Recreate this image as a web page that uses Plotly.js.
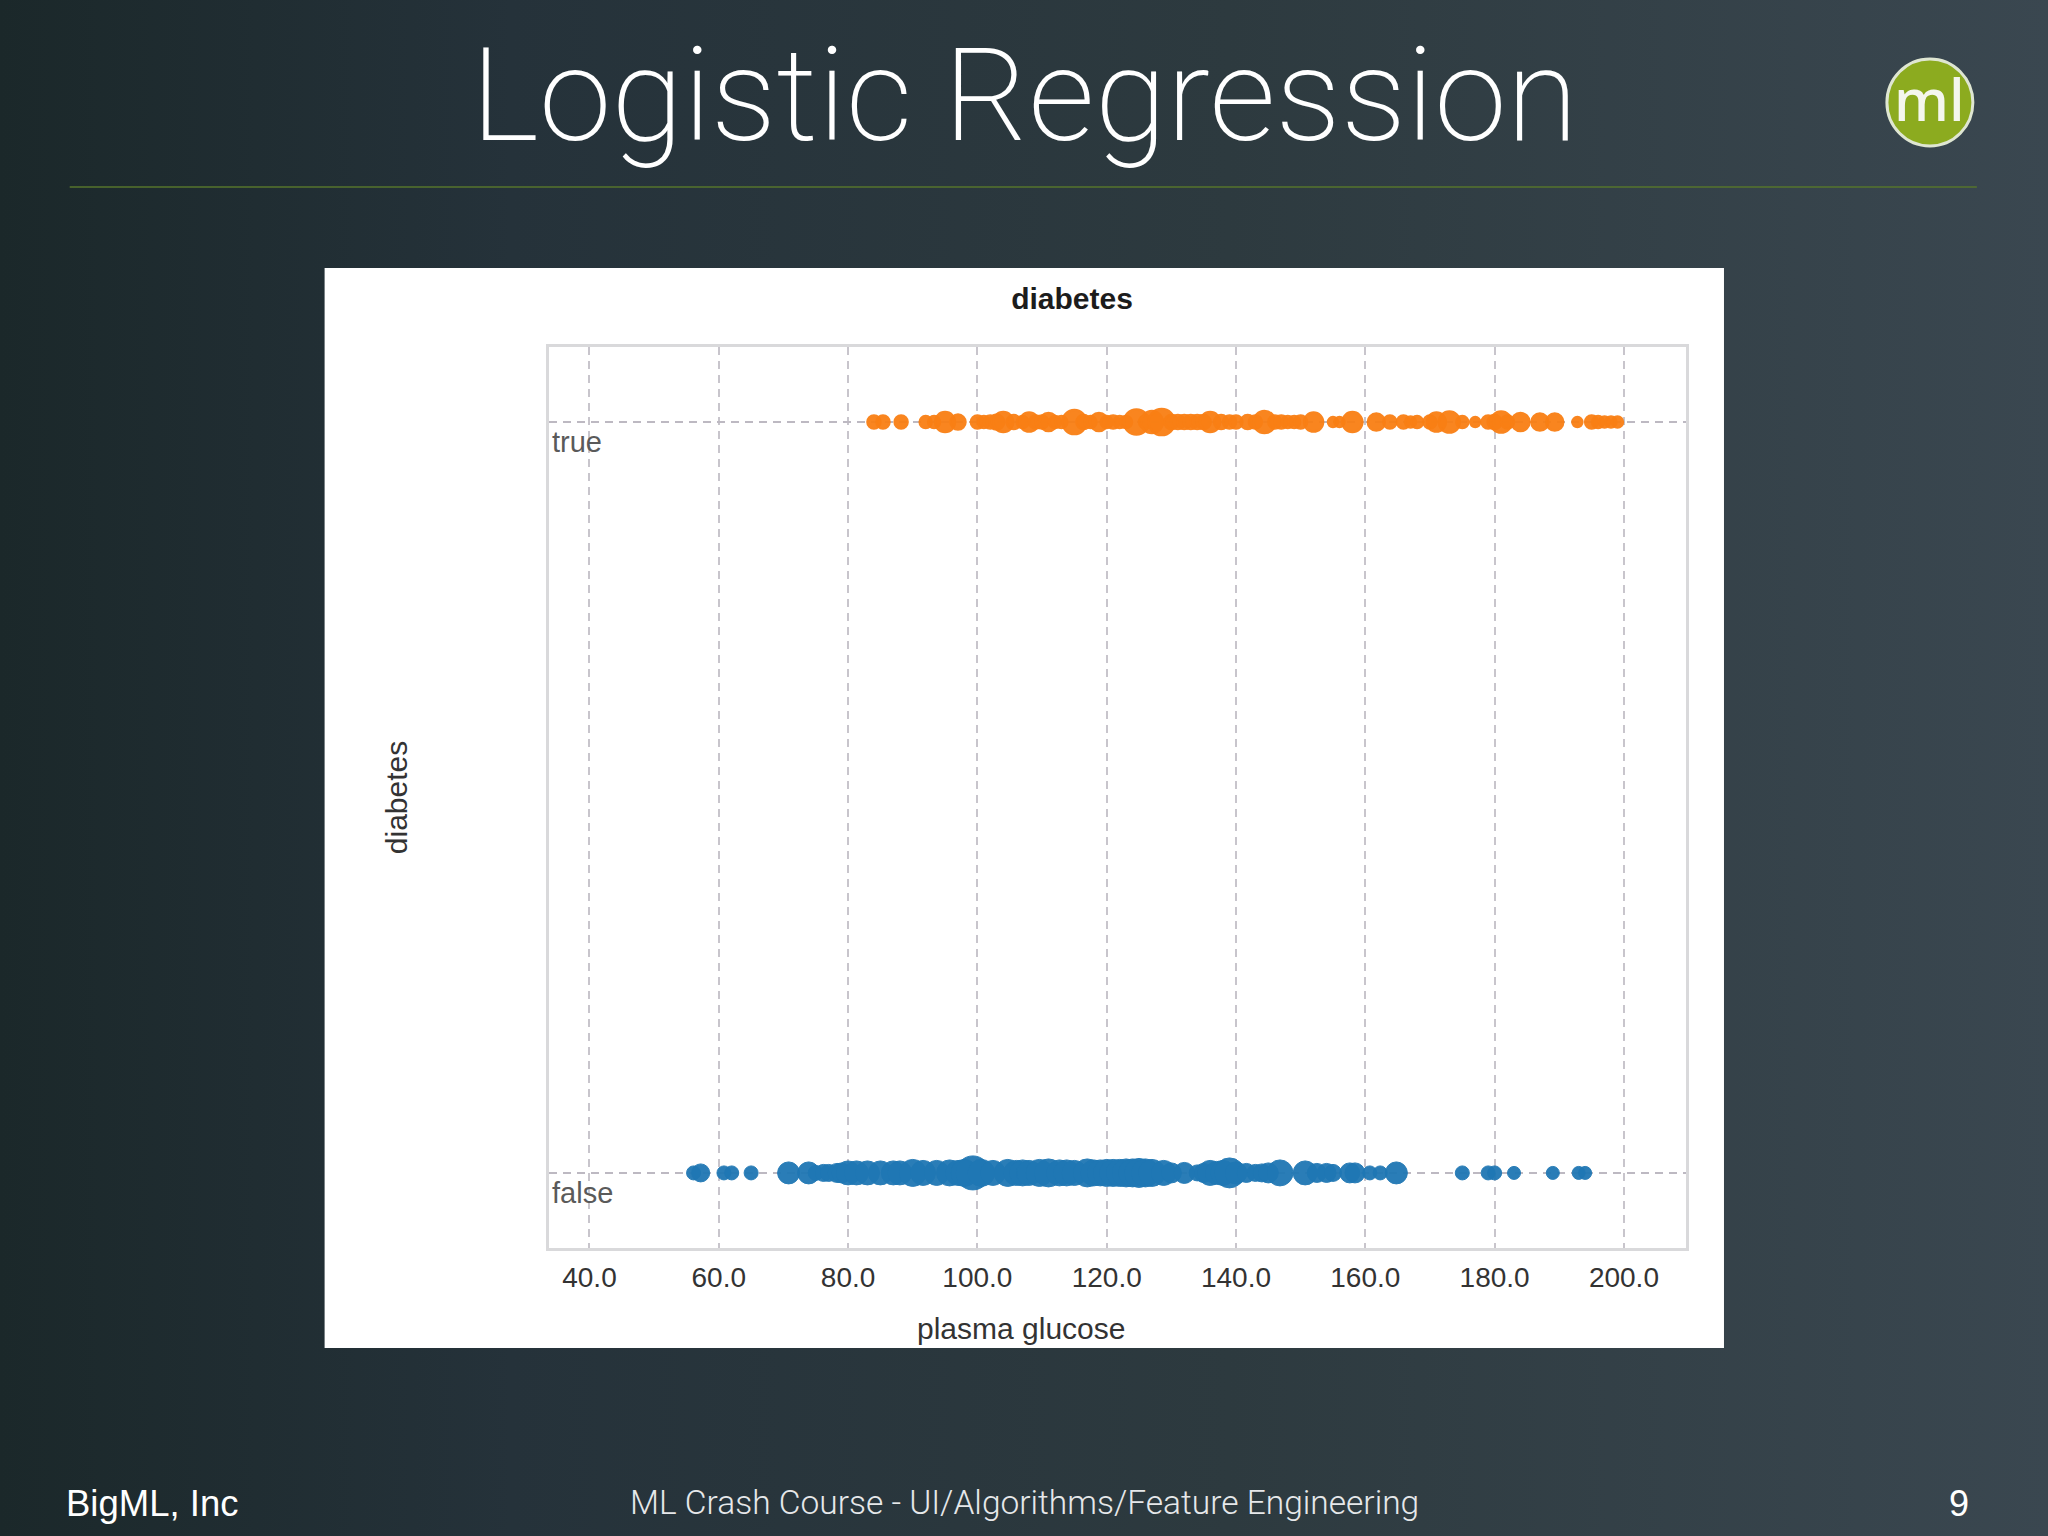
<!DOCTYPE html>
<html><head><meta charset="utf-8">
<script src="https://cdn.plot.ly/plotly-3.0.1.min.js"></script>
<style>
html,body{margin:0;padding:0;width:2048px;height:1536px;overflow:hidden;background:linear-gradient(90deg,#1b282a 0%,#25323a 25%,#2d3a3f 60%,#3a4750 100%);}
#chart{width:2048px;height:1536px;}
</style></head><body><div id="chart"></div>
<script>
const slideTitle = "Logistic Regression";
const chartTitle = "diabetes";
const xAxisLabel = "plasma glucose";
const yAxisLabel = "diabetes";
const footerLeft = "BigML, Inc";
const footerCenter = "ML Crash Course - UI/Algorithms/Feature Engineering";
const footerRight = "9";
const categories = ["false","true"];
const xTicks = [40,60,80,100,120,140,160,180,200];

const trueGlucose = [84,85.4,88.2,92,93.3,95,97,100,101,102,103,104,105.6,107,108,109,110,111,112,113,115,116.4,117.5,118.8,120,121,122,123,124.6,126,127,128.5,130,131,132,133,134,135,136,137.7,139,140,141.8,143,144.4,146,147,148,149,150,152,155,156,158,161.7,163.8,165.9,167,168,170,171,173,175,177,179,180,181,182,184,187,189.3,192.8,195,196,197,198,199];
const trueSizes   = [13,13,13,12,12,20,15,13,12,13,15,20,14,12,19,13,13,18,12,12,24,14,12,18,12,13,12,12,25,13,22,26,14,14,14,14,14,14,20,14,13,13,14,13,22,13,13,12,12,13,19,10,10,20,17,13,13,11,12,13,19,21,12,10,13,14,21,13,18,17,17,10,13,12,11,11,11];

const falseGlucose = [56.1,57.2,60.8,62,65,70.8,73.9,75,76.2,77,78.3,79,80,81.3,83,85,87,88,90,91.6,93.7,95.7,97,98,99.3,100.6,102.4,104.7,106,107,108,109.6,111,112.7,113.8,115,117,118,119,120,121,122,123,124,125,126,127,128.8,130,132,134,135,136,137,138,139,140,141.6,143,144,145,146.8,150.7,152.5,154,155,157.6,158.4,160.7,162.3,164.8,175,179,180,183,189,193,194];
const falseSizes   = [14,18,14,14,14,22,22,15,17,17,19,20,24,24,24,24,24,24,27,25,25,26,25,27,34,27,25,27,25,26,25,27,28,26,26,25,28,26,26,27,27,27,28,28,29,28,27,25,20,21,16,19,25,23,25,30,22,19,17,18,20,26,24,19,19,17,20,20,14,14,22,14,14,14,13,13,13,13];

const W=2048,H=1536,L=548.5,R=362,T=347,B=288;
const fx=p=>(p-L)/(W-L-R), fy=p=>1-(p-T)/(H-T-B);
const sans='"Liberation Sans",Arial,sans-serif';
const note=(text,xp,yp,size,color,opts={})=>Object.assign({text,x:fx(xp),y:fy(yp),xref:'paper',yref:'paper',showarrow:false,xanchor:'center',yanchor:'middle',font:{family:sans,size,color}},opts);
const catLabel=(c)=>({text:c,x:fx(550),xref:'paper',y:c,yref:'y',xanchor:'left',yanchor:'middle',yshift:-20,showarrow:false,font:{family:sans,size:29,color:'#5a5a5a'}});

const traces=[
 {type:'scatter',mode:'markers',name:'false',x:falseGlucose,y:falseGlucose.map(()=>categories[0]),marker:{color:'#1f77b4',size:falseSizes,opacity:0.95,line:{width:1,color:'#1f77b4'}},showlegend:false},
 {type:'scatter',mode:'markers',name:'true',x:trueGlucose,y:trueGlucose.map(()=>categories[1]),marker:{color:'#f97f14',size:trueSizes,opacity:0.95,line:{width:2.5,color:'#f97f14'}},showlegend:false}
];
const layout={
 width:W,height:H,margin:{l:L,r:R,t:T,b:B,pad:0},
 paper_bgcolor:'rgba(0,0,0,0)',plot_bgcolor:'#ffffff',showlegend:false,
 title:{text:'<b>'+chartTitle+'</b>',x:1072/W,xanchor:'center',xref:'container',y:1-298/H,yanchor:'middle',yref:'container',font:{family:sans,size:30,color:'#1c1c1c'}},
 xaxis:{range:[33.74,209.6],tickvals:xTicks,tickformat:'.1f',showgrid:true,gridcolor:'#c8c5cc',griddash:'8px,6px',gridwidth:2,zeroline:false,showline:true,linecolor:'#d9d9db',linewidth:3,mirror:true,ticks:'outside',ticklen:2,tickcolor:'rgba(0,0,0,0)',tickfont:{family:sans,size:28,color:'#333'}},
 yaxis:{type:'category',categoryorder:'array',categoryarray:categories,range:[-0.1,1.1],showgrid:true,gridcolor:'#bdb9c2',griddash:'8px,6px',gridwidth:2,zeroline:false,showline:true,linecolor:'#d9d9db',linewidth:3,mirror:true,ticks:'',showticklabels:false,title:{text:yAxisLabel,standoff:130,font:{family:sans,size:30,color:'#333'}}},
 shapes:[
  {type:'rect',xref:'paper',yref:'paper',x0:fx(324),x1:fx(1724),y0:fy(1348),y1:fy(268),fillcolor:'#ffffff',line:{width:0},layer:'below'},
  {type:'line',xref:'paper',yref:'paper',x0:fx(69),x1:fx(1977),y0:fy(187),y1:fy(187),line:{color:'#56752c',width:1.5},layer:'below'},
  {type:'circle',xref:'paper',yref:'paper',x0:fx(1887),x1:fx(1973),y0:fy(146),y1:fy(59),fillcolor:'#8cab1f',line:{color:'#dfe6d2',width:3},layer:'below'}
 ],
 annotations:[
  note(slideTitle,1024,96,130.5,'#ffffff',{font:{family:'Roboto,"Liberation Sans",sans-serif',size:130.5,color:'#ffffff',weight:200}}),
  note('ml',1930,99,58,'#f4f6ee',{font:{family:'"Noto Sans",sans-serif',size:58,color:'#f4f6ee',weight:500}}),
  note(xAxisLabel,1021,1328,30,'#333'),
  catLabel(categories[1]),
  catLabel(categories[0]),
  note(footerLeft,63,1503,36.5,'#ffffff',{xanchor:'left'}),
  note(footerCenter,1024,1502,33.5,'#e6e8ea',{font:{family:'Roboto,"Liberation Sans",sans-serif',size:33.5,color:'#e6e8ea',weight:300}}),
  note(footerRight,1959,1503,36,'#ffffff')
 ]
};
Plotly.newPlot('chart',traces,layout,{displayModeBar:false,staticPlot:true});
</script></body></html>
